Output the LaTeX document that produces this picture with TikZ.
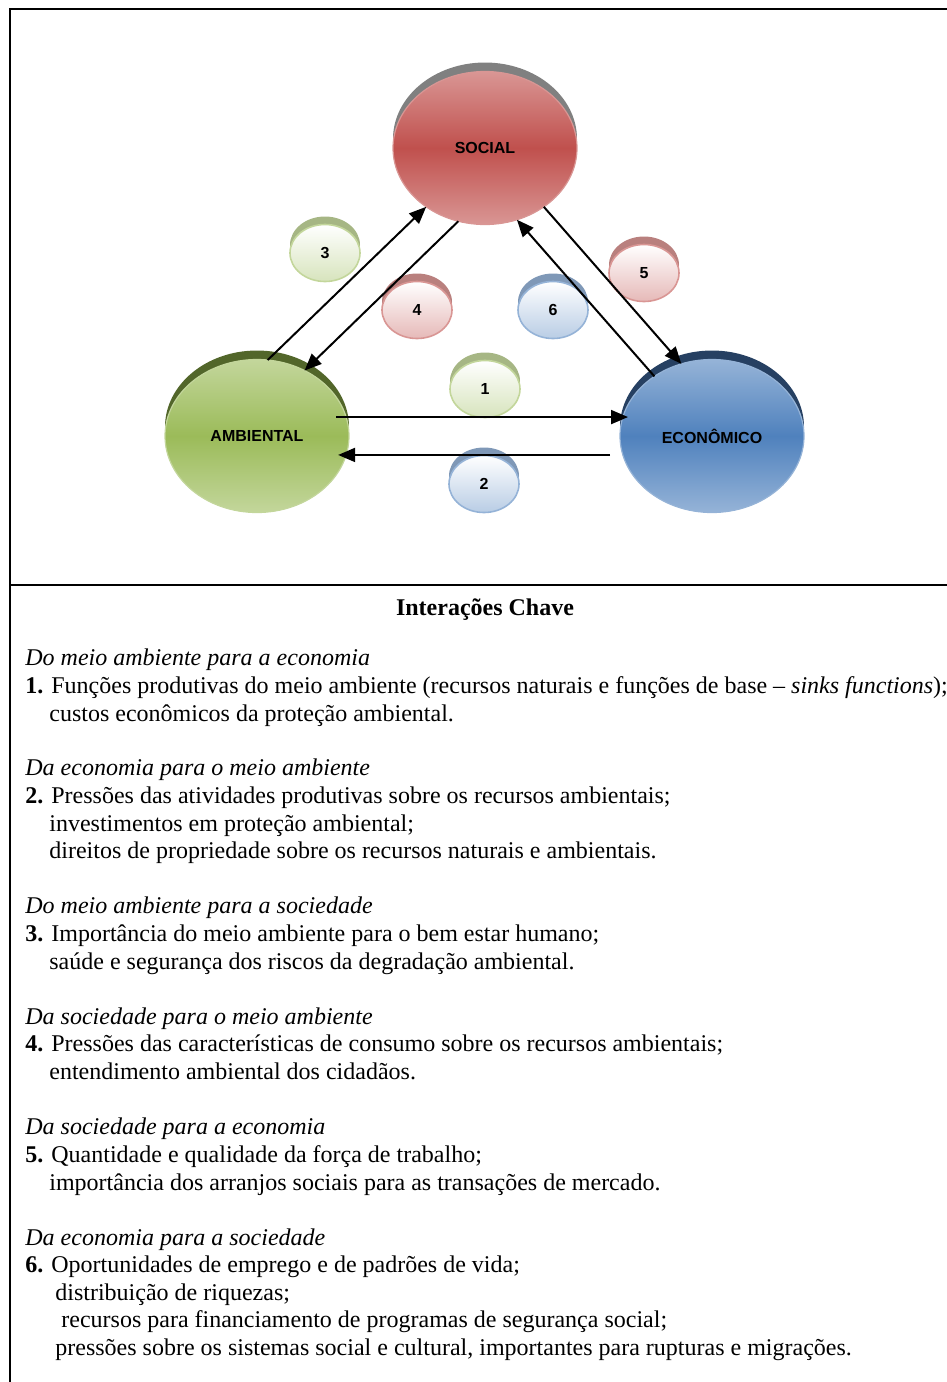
\documentclass[tikz,border=0pt]{standalone}
\usepackage{fontspec}
\setmainfont{Liberation Serif}
\newfontfamily\labelfont{Liberation Sans}
\usetikzlibrary{arrows.meta,shapes.geometric}

\definecolor{socred}{RGB}{192,80,77}
\definecolor{ambgreen}{RGB}{155,187,89}
\definecolor{ecoblue}{RGB}{79,129,189}
\definecolor{socrim}{RGB}{128,128,128}
\definecolor{ambrim}{RGB}{82,102,42}
\definecolor{ecorim}{RGB}{38,64,98}

\tikzset{
  bigball/.style 2 args={ellipse, minimum width=92pt, minimum height=76.5pt,
    inner sep=0pt, outer sep=0pt, draw=#1!60!white, line width=0.6pt,
    top color=#1!60!white, bottom color=#1!60!white, middle color=#1,
    preaction={fill=#2, transform canvas={yshift=4.5pt}},
    font=\labelfont\bfseries\fontsize{8}{9.6}\selectfont},
  numball/.style={ellipse, minimum width=35pt, minimum height=28.5pt,
    inner sep=0pt, outer sep=0pt, draw=#1!60!white, line width=0.8pt,
    top color=white, bottom color=#1!40!white,
    preaction={fill=#1!60!white!85!black, transform canvas={yshift=4pt}},
    font=\labelfont\bfseries\fontsize{8}{9.6}\selectfont},
  conn/.style={-{Triangle[length=8.5pt,width=7pt]}, line width=1pt},
  frame/.style={line width=1.3pt},
  txt/.style={anchor=base west, inner sep=0pt, font=\fontsize{12}{13.8}\selectfont}
}

\begin{document}
\begin{tikzpicture}[x=0.5pt,y=-0.5pt]
\useasboundingbox (0,0) rectangle (947,1382);

% moldura
\draw[frame] (10,1382) -- (10,9) -- (947,9);
\draw[frame] (10,585) -- (947,585);

% esferas principais
\node[bigball={socred}{socrim}] (social) at (485,148) {SOCIAL};
\node[bigball={ambgreen}{ambrim}] (ambiental) at (257,436) {AMBIENTAL};
\node[bigball={ecoblue}{ecorim}] (economico) at (712,436) {ECONÔMICO};

% numeros das interacoes
\node[numball=ambgreen] (n1) at (485,389) {1};
\node[numball=ecoblue] (n2) at (484,484) {2};
\node[numball=ambgreen] (n3) at (325,253) {3};
\node[numball=socred] (n4) at (417,310) {4};
\node[numball=socred] (n5) at (644,273) {5};
\node[numball=ecoblue] (n6) at (553,310) {6};

% setas
\draw[conn, shorten <=-5pt, shorten >=-4pt] (ambiental.12.7) -- (ambiental.12.7 -| economico.west);
\draw[conn, shorten <=5pt, shorten >=-4pt] (economico.west |- ambiental.-12.1) -- (ambiental.-12.1);
\draw[conn] (ambiental.82) -- (social.225);
\draw[conn] (social.250.4) -- (ambiental.54);
\draw[conn] (social.315) -- (economico.113.9);
\draw[conn] (economico.134) -- (social.294.7);

% texto
\node[anchor=base, inner sep=0pt, font=\bfseries\fontsize{12}{13.8}\selectfont] (titulo) at (485,615) {Interações Chave};

\node[txt] (h1) at (25,665) {\textit{Do meio ambiente para a economia}};
\node[txt] (l1a) at (25,693) {\textbf{1.} Funções produtivas do meio ambiente (recursos naturais e funções de base – \textit{sinks functions});};
\node[txt] (l1b) at (49,721) {custos econômicos da proteção ambiental.};

\node[txt] (h2) at (25,775) {\textit{Da economia para o meio ambiente}};
\node[txt] (l2a) at (25,803) {\textbf{2.} Pressões das atividades produtivas sobre os recursos ambientais;};
\node[txt] (l2b) at (49,831) {investimentos em proteção ambiental;};
\node[txt] (l2c) at (49,858) {direitos de propriedade sobre os recursos naturais e ambientais.};

\node[txt] (h3) at (25,913) {\textit{Do meio ambiente para a sociedade}};
\node[txt] (l3a) at (25,941) {\textbf{3.} Importância do meio ambiente para o bem estar humano;};
\node[txt] (l3b) at (49,969) {saúde e segurança dos riscos da degradação ambiental.};

\node[txt] (h4) at (25,1024) {\textit{Da sociedade para o meio ambiente}};
\node[txt] (l4a) at (25,1051) {\textbf{4.} Pressões das características de consumo sobre os recursos ambientais;};
\node[txt] (l4b) at (49,1079) {entendimento ambiental dos cidadãos.};

\node[txt] (h5) at (25,1134) {\textit{Da sociedade para a economia}};
\node[txt] (l5a) at (25,1162) {\textbf{5.} Quantidade e qualidade da força de trabalho;};
\node[txt] (l5b) at (49,1190) {importância dos arranjos sociais para as transações de mercado.};

\node[txt] (h6) at (25,1245) {\textit{Da economia para a sociedade}};
\node[txt] (l6a) at (25,1272) {\textbf{6.} Oportunidades de emprego e de padrões de vida;};
\node[txt] (l6b) at (55,1300) {distribuição de riquezas;};
\node[txt] (l6c) at (61,1327) {recursos para financiamento de programas de segurança social;};
\node[txt] (l6d) at (55,1355) {pressões sobre os sistemas social e cultural, importantes para rupturas e migrações.};
\end{tikzpicture}
\end{document}
